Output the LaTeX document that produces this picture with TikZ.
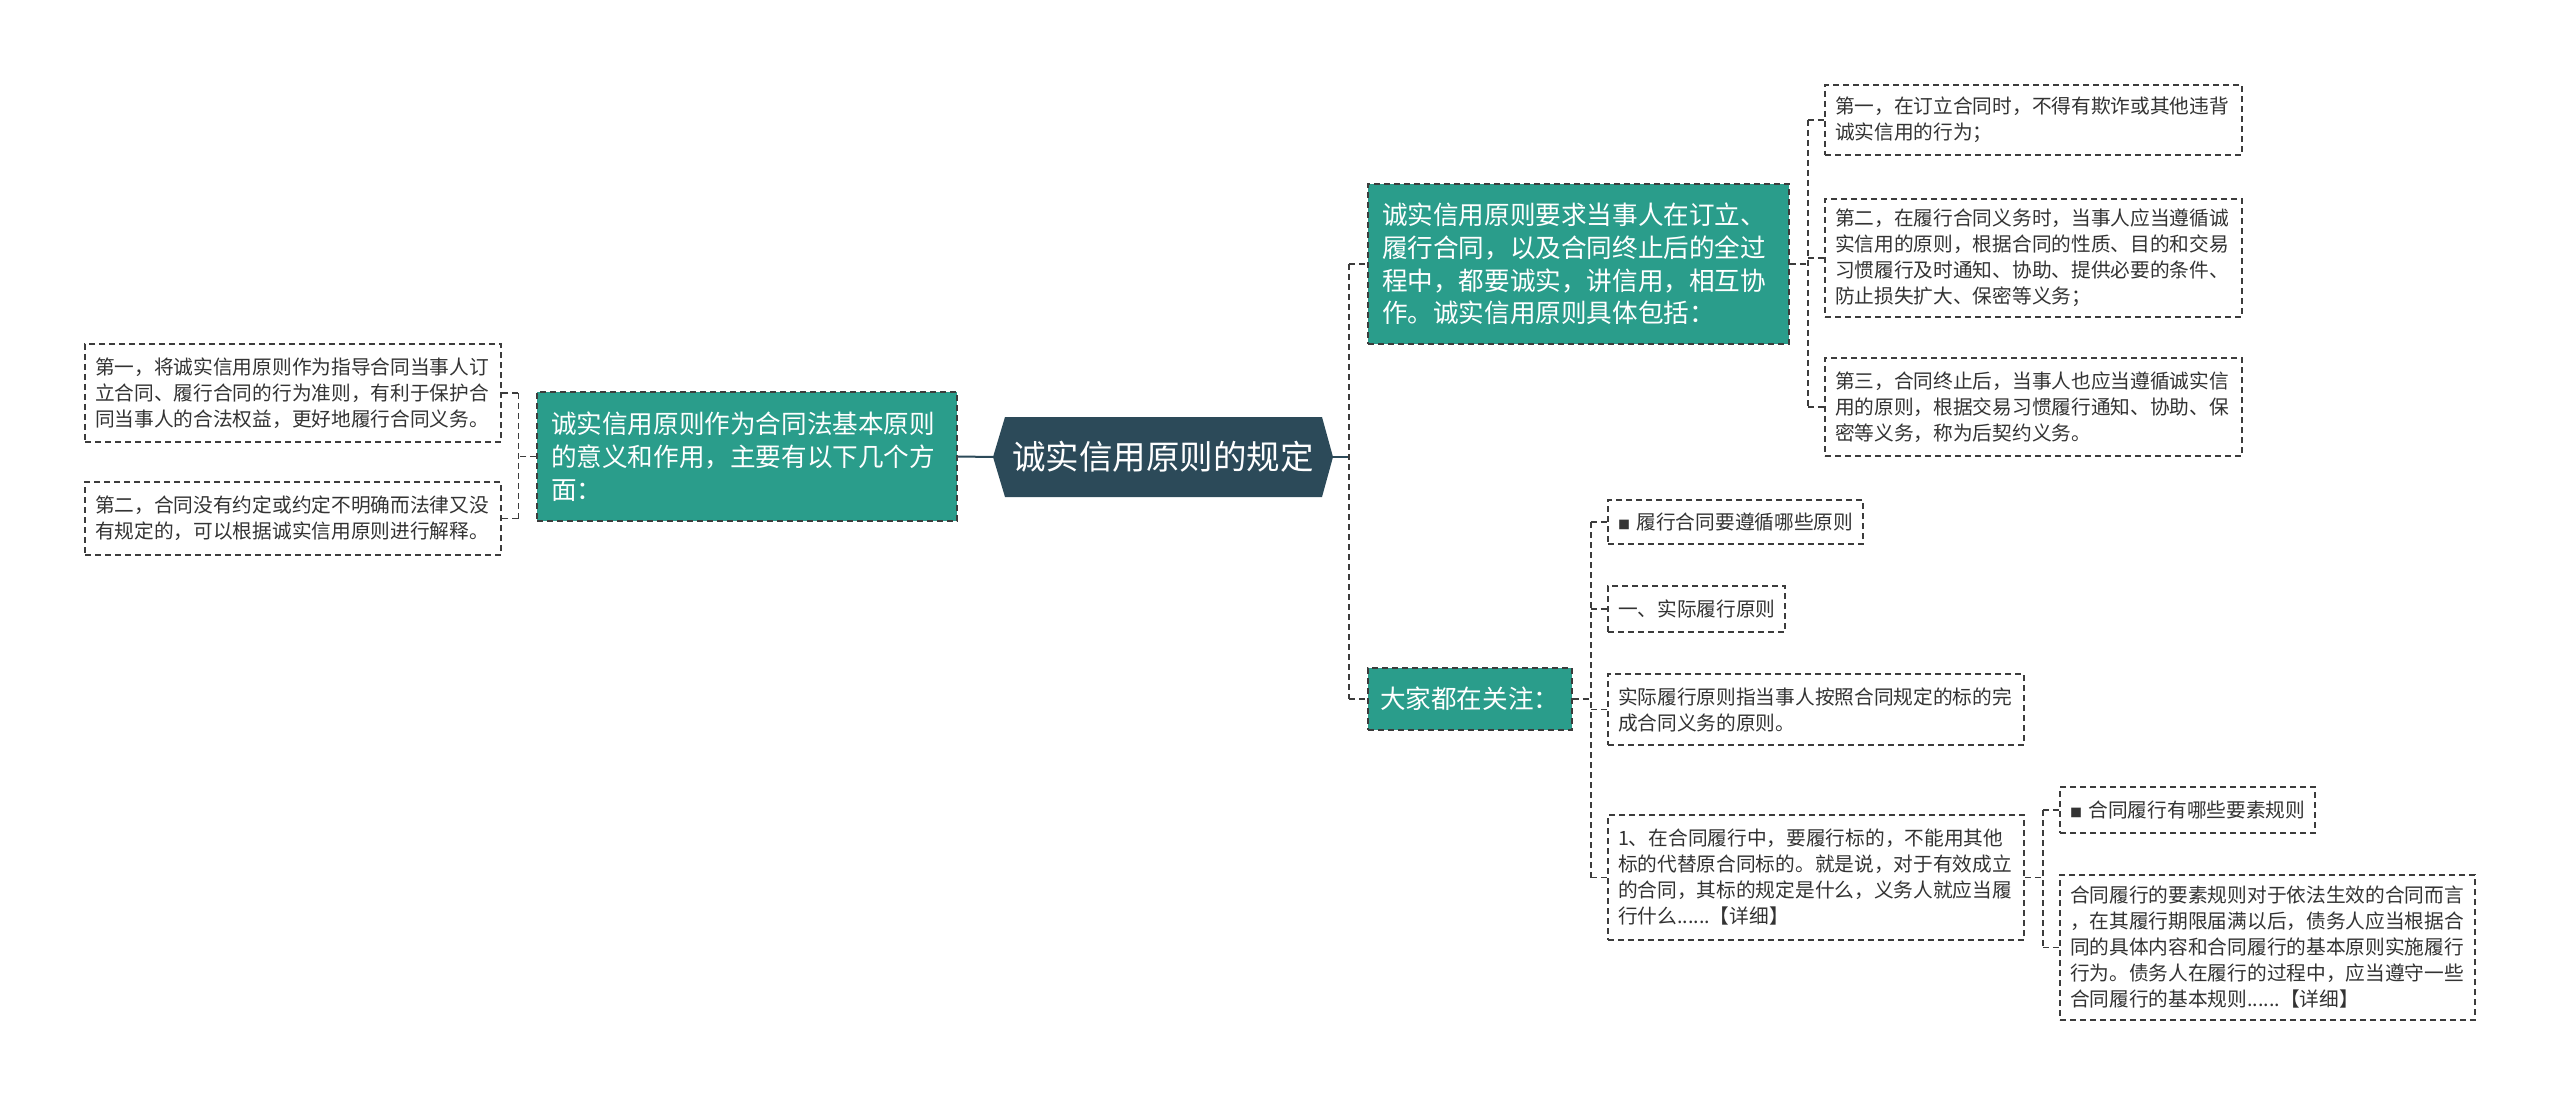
\documentclass[tikz,border=0pt]{standalone}
\usepackage{fontspec}
\setmainfont{Noto Sans CJK SC}
\usetikzlibrary{calc}
\definecolor{mapteal}{RGB}{42,157,139}
\definecolor{mapslate}{RGB}{44,74,89}
\definecolor{mapline}{RGB}{60,60,60}
\definecolor{maptext}{RGB}{51,51,51}

\begin{document}
\begin{tikzpicture}[x=0.5pt, y=-0.5pt]
  \tikzset{
      leaf/.style={draw=mapline, line width=0.75pt, dash pattern=on 3pt off 2pt, text=maptext, align=left, inner xsep=5pt, inner ysep=0pt, font=\fontsize{9.85}{13}\selectfont},
      topic/.style={draw=mapline, line width=0.75pt, dash pattern=on 3pt off 2pt, fill=mapteal, text=white, align=left, inner xsep=7pt, inner ysep=0pt, font=\fontsize{12.8}{16.4}\selectfont},
      link/.style={draw=mapline, line width=0.75pt, dash pattern=on 3pt off 2pt},
      trunk/.style={draw=mapslate, line width=1pt}
  }
  \fill[white] (0,0) rectangle (2560,1107);
  \useasboundingbox (0,0) rectangle (2560,1107);

  % root
  \fill[mapslate] (993,457) -- (1005,417) -- (1322,417) -- (1333,457) -- (1322,497) -- (1005,497) -- cycle;
  \node[text=white, inner sep=0pt, minimum width=170pt, minimum height=40pt, font=\fontsize{16.75}{20}\selectfont] (root) at (1163,457) {诚实信用原则的规定};

  % left branch
  \node[topic, text width=196pt, minimum height=64.5pt] (lm) at (747,456.5) {诚实信用原则作为合同法基本原则\\的意义和作用，主要有以下几个方\\面：};
  \node[leaf, text width=198pt, minimum height=49pt] (l1) at (293,393) {第一，将诚实信用原则作为指导合同当事人订\\立合同、履行合同的行为准则，有利于保护合\\同当事人的合法权益，更好地履行合同义务。};
  \node[leaf, text width=198pt, minimum height=36.5pt] (l2) at (293,518.5) {第二，合同没有约定或约定不明确而法律又没\\有规定的，可以根据诚实信用原则进行解释。};

  % right branch
  \node[topic, text width=196.5pt, minimum height=80pt] (rm1) at (1578.5,264) {诚实信用原则要求当事人在订立、\\履行合同，以及合同终止后的全过\\程中，都要诚实，讲信用，相互协\\作。诚实信用原则具体包括：};
  \node[topic, inner xsep=6pt, text width=90pt, minimum height=31pt] (rm2) at (1470,699) {大家都在关注：};

  \node[leaf, text width=198.5pt, minimum height=35pt] (ra) at (2033.5,120) {第一，在订立合同时，不得有欺诈或其他违背\\诚实信用的行为；};
  \node[leaf, text width=198.5pt, minimum height=59pt] (rb) at (2033.5,258) {第二，在履行合同义务时，当事人应当遵循诚\\实信用的原则，根据合同的性质、目的和交易\\习惯履行及时通知、协助、提供必要的条件、\\防止损失扩大、保密等义务；};
  \node[leaf, text width=198.5pt, minimum height=49pt] (rc) at (2033.5,407) {第三，合同终止后，当事人也应当遵循诚实信\\用的原则，根据交易习惯履行通知、协助、保\\密等义务，称为后契约义务。};

  \node[leaf, text width=117.5pt, minimum height=22pt] (n1) at (1735.5,522) {{\fontsize{6}{6}\selectfont ■}~履行合同要遵循哪些原则};
  \node[leaf, text width=78.5pt, minimum height=23pt] (n2) at (1696.5,609) {一、实际履行原则};
  \node[leaf, text width=198pt, minimum height=35.5pt] (n3) at (1816,709.5) {实际履行原则指当事人按照合同规定的标的完\\成合同义务的原则。};
  \node[leaf, text width=198pt, minimum height=62.5pt] (n4) at (1816,877.5) {1、在合同履行中，要履行标的，不能用其他\\标的代替原合同标的。就是说，对于有效成立\\的合同，其标的规定是什么，义务人就应当履\\行什么......【详细】};

  \node[leaf, text width=117.5pt, minimum height=23pt] (m1) at (2187.5,810) {{\fontsize{6}{6}\selectfont ■}~合同履行有哪些要素规则};
  \node[leaf, text width=197.5pt, minimum height=72.5pt] (m2) at (2267.5,947.5) {合同履行的要素规则对于依法生效的合同而言\\，在其履行期限届满以后，债务人应当根据合\\同的具体内容和合同履行的基本原则实施履行\\行为。债务人在履行的过程中，应当遵守一些\\合同履行的基本规则......【详细】};

  % connectors
  \coordinate (rootW) at (993,457);
  \coordinate (rootE) at (1333,457);
  \draw[trunk] (rootW) -- (lm.east);
  \coordinate (busR) at (1349,457);
  \draw[trunk] (rootE) -- (busR);
  \draw[link] (busR |- rm1.west) -- (busR |- rm2.west);
  \foreach \c in {rm1,rm2} \draw[link] (busR |- \c.west) -- (\c.west);

  \coordinate (busL) at ($(lm.west)+(-18,0)$);
  \draw[link] (lm.west) -- (busL);
  \draw[link] (busL |- l1.east) -- (busL |- l2.east);
  \foreach \c in {l1,l2} \draw[link] (busL |- \c.east) -- (\c.east);

  \coordinate (busA) at ($(rm1.east)+(18,0)$);
  \draw[link] (rm1.east) -- (busA);
  \draw[link] (busA |- ra.west) -- (busA |- rc.west);
  \foreach \c in {ra,rb,rc} \draw[link] (busA |- \c.west) -- (\c.west);

  \coordinate (busB) at ($(rm2.east)+(18,0)$);
  \draw[link] (rm2.east) -- (busB);
  \draw[link] (busB |- n1.west) -- (busB |- n4.west);
  \foreach \c in {n1,n2,n3,n4} \draw[link] (busB |- \c.west) -- (\c.west);

  \coordinate (busC) at ($(n4.east)+(18,0)$);
  \draw[link] (n4.east) -- (busC);
  \draw[link] (busC |- m1.west) -- (busC |- m2.west);
  \foreach \c in {m1,m2} \draw[link] (busC |- \c.west) -- (\c.west);
\end{tikzpicture}
\end{document}
